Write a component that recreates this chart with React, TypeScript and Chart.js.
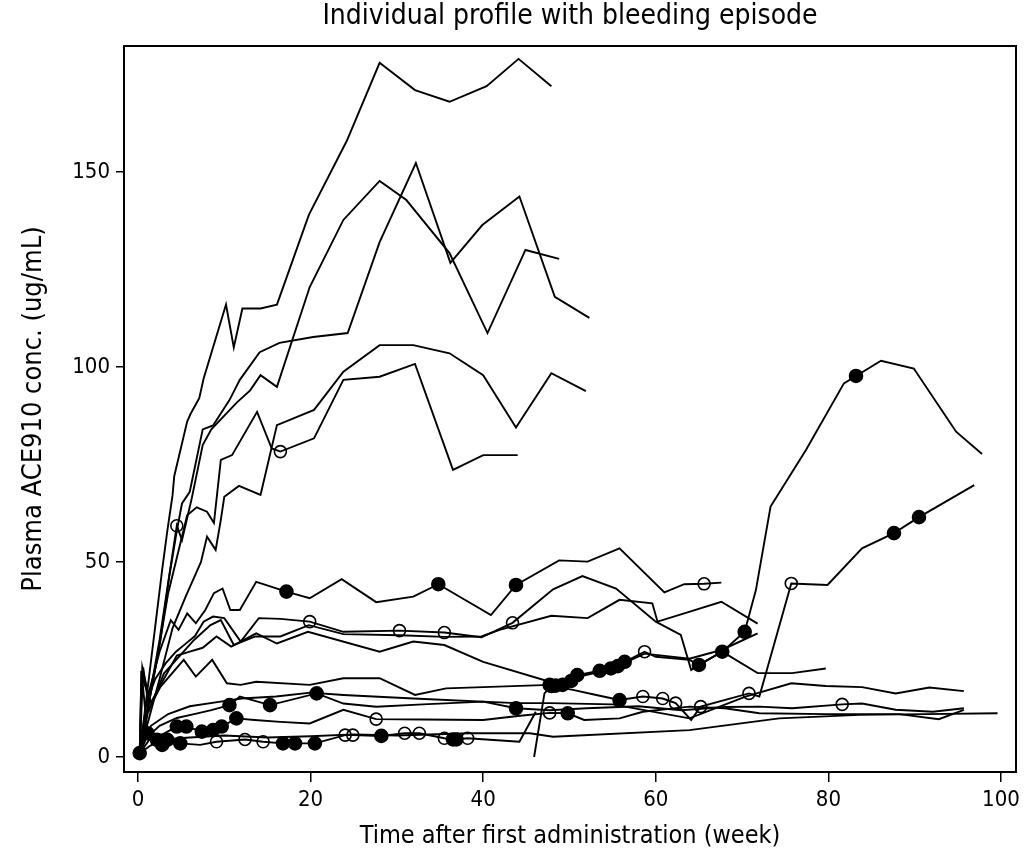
import React, { useEffect, useRef } from "react";
import { Chart, registerables } from "chart.js";

Chart.register(...registerables);

// ---- text ----
const chartTitle = "Individual profile with bleeding episode";
const xTitle = "Time after first administration (week)";
const yTitle = "Plasma ACE910 conc. (ug/mL)";
const FONT = "'DejaVu Sans Condensed', 'Liberation Sans Narrow', 'DejaVu Sans', sans-serif";

// ---- axis ticks ----
const xTickStep = 20;
const yTickStep = 50;

// ---- individual profiles (week, concentration ug/mL); filled = bleeding episode, open = other episode ----
const s01Weeks = [0.2, 2.8, 3.4, 4.0, 4.2, 5.7, 6.1, 7.1, 7.6, 10.2, 11.1, 12.1, 14.2, 16.1, 19.8, 24.2, 28.0, 32.1, 36.1, 40.4, 44.1, 47.9];
const s01Conc = [1, 48, 58, 67, 72, 86, 88, 92, 97, 116, 105, 115, 115, 116, 139, 158, 178, 171, 168, 172, 179, 172];
const s01Filled: number[] = [];
const s01Open: number[] = [];

const s02Weeks = [0.2, 2.6, 3.6, 4.5, 5.1, 6.0, 7.5, 8.7, 10.6, 11.8, 14.1, 16.4, 20.3, 24.3, 28.0, 32.2, 36.2, 39.9, 44.2, 48.3, 52.3];
const s02Conc = [1, 30, 46, 58, 65, 68, 84, 85, 91.5, 96.7, 103.8, 106.2, 107.7, 108.7, 132, 152.3, 126.7, 136.4, 143.7, 118, 112.6];
const s02Filled: number[] = [];
const s02Open: number[] = [];

const s03Weeks = [0.2, 2.5, 4.5, 5.1, 6.2, 7.5, 8.5, 10.2, 11.5, 13.0, 14.2, 16.1, 19.9, 23.8, 28.0, 31.1, 36.1, 40.5, 44.9, 48.8];
const s03Conc = [1, 30, 59.3, 55.6, 66, 80, 84, 88, 91, 94, 97.9, 94.9, 120.5, 137.7, 147.7, 142.8, 129.2, 108.7, 130, 127.7];
const s03Filled: number[] = [];
const s03Open = [4.5];

const s04Weeks = [0.2, 2.5, 4.0, 5.5, 6.5, 7.3, 8.0, 9.0, 9.6, 10.0, 11.7, 14.2, 16.1, 20.4, 23.8, 28.0, 31.9, 36.1, 40.0, 43.8, 47.9, 51.9];
const s04Conc = [1, 20, 33, 41, 46, 50, 56.5, 53.1, 60.8, 66.7, 69.5, 67.2, 85.1, 89, 98.8, 105.6, 105.6, 103.5, 97.9, 84.5, 98.4, 93.8];
const s04Filled: number[] = [];
const s04Open: number[] = [];

const s05Weeks = [0.2, 2.2, 3.5, 4.6, 5.7, 6.8, 8.0, 8.8, 9.6, 10.9, 13.8, 15.5, 16.5, 20.4, 23.8, 28.0, 32.1, 36.5, 40.0, 44.0];
const s05Conc = [1, 25, 42, 52, 62, 64, 62.9, 60, 76.2, 77.4, 88.5, 79.1, 78.3, 81.7, 96.7, 97.5, 100.8, 73.6, 77.4, 77.4];
const s05Filled: number[] = [];
const s05Open = [16.5];

const s06Weeks = [0.2, 0.5, 1.2, 2.5, 3.8, 4.7, 5.7, 6.7, 7.8, 8.8, 9.8, 10.7, 11.8, 13.7, 17.2, 19.9, 23.6, 27.6, 31.9, 34.8, 40.9, 43.8, 48.8, 52.1, 55.8, 61.0, 63.3, 65.6, 67.6];
const s06Conc = [1, 23, 16, 27, 35.1, 32.6, 36.8, 34.3, 37.7, 42, 43.2, 37.7, 37.7, 44.9, 42.4, 40.7, 45.6, 39.7, 41.1, 44.3, 36.4, 44.1, 50.4, 50.1, 53.5, 42.2, 44.3, 44.4, 44.7];
const s06Filled = [17.2, 34.8, 43.8];
const s06Open = [65.6];

const s07Weeks = [0.2, 1.0, 2.0, 3.2, 4.4, 5.5, 6.6, 7.6, 8.7, 10.0, 11.9, 14.0, 16.5, 19.9, 23.8, 30.3, 35.5, 39.8, 43.4, 48.1, 51.5, 55.4, 60.0, 62.9, 64.1, 65.0, 67.7, 70.3, 71.6, 73.3, 77.4, 81.8, 83.2, 86.1, 89.9, 94.8, 97.8];
const s07Conc = [1, 14, 20, 24, 27, 29, 31, 34.7, 36, 35.6, 29.6, 35.6, 35.4, 34.7, 32.1, 32.4, 31.9, 30.7, 34.4, 43, 46.4, 43.2, 34.7, 31.3, 22.3, 23.6, 27, 32.1, 42.8, 64.2, 78.7, 95.8, 97.7, 101.6, 99.6, 83.4, 77.7];
const s07Filled = [70.3, 83.2];
const s07Open = [19.9, 30.3, 35.5, 43.4];

const s08Weeks = [0.2, 0.4, 1.5, 3.0, 4.5, 6.0, 7.5, 9.1, 10.8, 13.7, 16.1, 19.7, 28.0, 31.9, 35.5, 40.0, 47.7, 50.9, 54.8, 58.7, 63.9, 67.7, 71.8];
const s08Conc = [1, 21, 14, 20, 26, 27, 28, 30.9, 28.3, 31.7, 29.1, 32.1, 27, 29.6, 28.7, 24.4, 19.3, 20.5, 22.5, 26.5, 25.2, 27.5, 31.7];
const s08Filled: number[] = [];
const s08Open: number[] = [];

const s09Weeks = [0.2, 0.6, 1.3, 3.0, 6.5, 8.4, 9.6, 11.1, 13.6, 16.5, 19.8, 23.8, 30.3, 35.5, 39.8, 41.9, 47.9, 52.1, 55.8, 59.6, 60.2, 63.3, 67.6, 71.8];
const s09Conc = [1, 23, 12, 21.4, 30, 33.8, 35.1, 28.7, 30.9, 30.9, 33.8, 31.5, 31.2, 30.8, 30.9, 32.6, 36.2, 35.6, 40.3, 39.4, 34.7, 36.8, 39.8, 34.2];
const s09Filled: number[] = [];
const s09Open: number[] = [];

const s10Weeks = [0.2, 1.2, 2.6, 5.3, 6.7, 8.6, 10.3, 11.9, 13.7, 19.9, 23.8, 28.0, 32.1, 35.7, 47.7, 48.4, 49.2, 50.2, 50.9, 53.5, 54.8, 55.6, 56.4, 58.7, 60.0, 63.9, 65.0, 67.7, 71.8, 75.8, 79.7];
const s10Conc = [1, 12, 18, 24.9, 20.6, 24.9, 18.9, 18.5, 19.3, 18.5, 20.2, 20.2, 15.9, 17.6, 18.5, 18.3, 18.5, 19.5, 21, 22.1, 22.7, 23.3, 24.4, 27, 25.7, 24.9, 23.6, 27, 21.5, 21.5, 22.7];
const s10Filled = [47.7, 48.4, 49.2, 50.2, 50.9, 53.5, 54.8, 55.6, 56.4, 65.0, 67.7];
const s10Open = [58.7];

const s11Weeks = [45.9, 47.1, 47.9, 50.4, 53.1, 55.8, 58.5, 60.8, 62.3, 64.1, 65.2, 70.8, 72.0, 75.7, 79.9, 83.9, 87.6, 90.5, 96.9];
const s11Conc = [0, 16.3, 18.2, 17.2, 15.9, 14.6, 15.5, 15, 13.8, 9.5, 12.9, 16.3, 15.5, 44.5, 44.1, 53.5, 57.4, 61.5, 69.7];
const s11Filled = [47.9, 55.8, 87.6, 90.5];
const s11Open = [58.5, 60.8, 62.3, 65.2, 70.8, 75.7];

const s12Weeks = [0.2, 0.4, 1.1, 2.2, 2.8, 3.4, 4.9, 7.2, 9.1, 12.4, 14.5, 16.8, 18.2, 20.5, 24.0, 24.9, 28.2, 30.9, 32.6, 35.5, 36.5, 36.9, 38.2, 44.2, 46.1];
const s12Conc = [1, 22, 6.1, 4.4, 3.1, 4.4, 3.5, 3.1, 3.9, 4.5, 3.9, 3.5, 3.5, 3.5, 5.6, 5.6, 5.4, 6.1, 6.1, 4.8, 4.5, 4.5, 4.8, 3.9, 11.6];
const s12Filled = [0.2, 1.1, 2.2, 2.8, 3.4, 4.9, 16.8, 18.2, 20.5, 28.2, 36.5, 36.9];
const s12Open = [9.1, 12.4, 14.5, 24.0, 24.9, 30.9, 32.6, 35.5, 38.2];

const s13Weeks = [0.2, 1.5, 3.0, 4.5, 5.6, 7.4, 8.7, 9.7, 11.4, 13.5, 16.5, 19.9, 23.8, 27.6, 33.0, 40.0, 44.0, 47.7, 49.8, 51.7, 55.8, 58.5, 63.9, 68.0, 72.0, 79.7, 88.2, 92.8, 95.7];
const s13Conc = [1, 5, 6, 7.8, 7.8, 6.5, 6.9, 7.8, 9.9, 9.5, 9.0, 8.6, 12.1, 9.7, 9.6, 9.5, 10.5, 11.3, 11.2, 9.5, 9.9, 11.6, 12.9, 12.5, 11.2, 11, 11, 9.7, 12.1];
const s13Filled = [4.5, 5.6, 7.4, 8.7, 9.7, 11.4, 49.8];
const s13Open = [27.6, 47.7];

const s14Weeks = [0.2, 1.0, 2.5, 4.5, 6.5, 8.5, 10.6, 11.8, 15.3, 20.7, 23.8, 27.6, 33.0, 40.0, 43.8, 47.7, 52.0, 58.0, 63.0, 68.0, 72.0, 75.8, 81.6, 83.9, 87.8, 92.1, 95.7];
const s14Conc = [1, 5, 8, 10, 11, 12, 13.3, 15.5, 13.3, 16.3, 13.7, 12.9, 13.5, 14.2, 12.5, 12, 12.5, 13, 12, 12.8, 12.9, 12.5, 13.5, 13.7, 12.1, 11.6, 12.5];
const s14Filled = [10.6, 15.3, 20.7, 43.8];
const s14Open = [81.6];

const s15Weeks = [0.2, 1.5, 3.5, 6.0, 9.0, 12.0, 16.0, 20.0, 23.8, 31.9, 43.8, 47.7, 55.0, 63.9, 70.4, 75.7, 79.7, 83.9, 87.8, 91.7, 95.7];
const s15Conc = [1, 8, 11, 13, 14, 15, 15.5, 16.5, 15.9, 15, 13.8, 13.8, 13.5, 9.9, 15.5, 18.9, 18.2, 17.9, 16.3, 17.8, 16.9];
const s15Filled: number[] = [];
const s15Open: number[] = [];

const s16Weeks = [0.2, 1.5, 3.0, 6.0, 10.0, 15.0, 20.0, 25.0, 30.0, 38.4, 45.4, 48.1, 63.9, 74.3, 83.6, 91.3, 99.6];
const s16Conc = [1, 3, 4.5, 5, 5.5, 5, 5.3, 5.8, 5.5, 6.1, 6.1, 5.2, 6.9, 9.9, 10.8, 11, 11.2];
const s16Filled: number[] = [];
const s16Open: number[] = [];

const subjects = [
  { weeks: s01Weeks, conc: s01Conc, filled: s01Filled, open: s01Open },
  { weeks: s02Weeks, conc: s02Conc, filled: s02Filled, open: s02Open },
  { weeks: s03Weeks, conc: s03Conc, filled: s03Filled, open: s03Open },
  { weeks: s04Weeks, conc: s04Conc, filled: s04Filled, open: s04Open },
  { weeks: s05Weeks, conc: s05Conc, filled: s05Filled, open: s05Open },
  { weeks: s06Weeks, conc: s06Conc, filled: s06Filled, open: s06Open },
  { weeks: s07Weeks, conc: s07Conc, filled: s07Filled, open: s07Open },
  { weeks: s08Weeks, conc: s08Conc, filled: s08Filled, open: s08Open },
  { weeks: s09Weeks, conc: s09Conc, filled: s09Filled, open: s09Open },
  { weeks: s10Weeks, conc: s10Conc, filled: s10Filled, open: s10Open },
  { weeks: s11Weeks, conc: s11Conc, filled: s11Filled, open: s11Open },
  { weeks: s12Weeks, conc: s12Conc, filled: s12Filled, open: s12Open },
  { weeks: s13Weeks, conc: s13Conc, filled: s13Filled, open: s13Open },
  { weeks: s14Weeks, conc: s14Conc, filled: s14Filled, open: s14Open },
  { weeks: s15Weeks, conc: s15Conc, filled: s15Filled, open: s15Open },
  { weeks: s16Weeks, conc: s16Conc, filled: s16Filled, open: s16Open },
];

const framePlugin = {
  id: "frameAndTitle",
  afterDraw(chart: any) {
    const { ctx, chartArea: a } = chart;
    ctx.save();
    ctx.strokeStyle = "#000";
    ctx.lineWidth = 2;
    ctx.strokeRect(a.left, a.top, a.right - a.left, a.bottom - a.top);
    ctx.fillStyle = "#000";
    ctx.font = `28px ${FONT}`;
    ctx.textAlign = "center";
    ctx.textBaseline = "middle";
    ctx.fillText(chartTitle, (a.left + a.right) / 2, 17);
    ctx.restore();
  },
};

export default function App() {
  const ref = useRef<HTMLCanvasElement | null>(null);

  useEffect(() => {
    if (!ref.current) return;
    const datasets = subjects.map((s, i) => {
      const kind = s.weeks.map((w) => (s.filled.includes(w) ? "f" : s.open.includes(w) ? "o" : ""));
      return {
        label: `Subject ${i + 1}`,
        data: s.weeks.map((w, j) => ({ x: w, y: s.conc[j] })),
        borderColor: "#000",
        borderWidth: 1.9,
        tension: 0,
        fill: false,
        pointRadius: kind.map((k) => (k === "f" ? 6.5 : k === "o" ? 6 : 0)),
        pointHoverRadius: 0,
        pointHitRadius: 0,
        pointBackgroundColor: kind.map((k) => (k === "f" ? "#000" : "rgba(0,0,0,0)")),
        pointBorderColor: "#000",
        pointBorderWidth: 1.6,
      };
    });

    const chart = new Chart(ref.current, {
      type: "line",
      data: { datasets },
      options: {
        animation: false,
        responsive: false,
        devicePixelRatio: 1,
        layout: { padding: { top: 46, right: 10, left: 0, bottom: 0 } },
        plugins: { legend: { display: false }, tooltip: { enabled: false }, title: { display: false } },
        scales: {
          x: {
            type: "linear",
            min: -1.62,
            max: 101.74,
            afterFit: (s: any) => {
              s.height = 88;
            },
            border: { display: false },
            grid: { display: true, drawOnChartArea: false, drawTicks: true, tickLength: 10, color: "#000", lineWidth: 1.5 },
            ticks: {
              stepSize: xTickStep,
              includeBounds: false,
              color: "#000",
              font: { family: FONT, size: 22 },
              padding: 5,
              maxRotation: 0,
              autoSkip: false,
            },
            title: {
              display: true,
              text: xTitle,
              color: "#000",
              font: { family: FONT, size: 25 },
              padding: { top: 0, bottom: 9 },
            },
          },
          y: {
            type: "linear",
            min: -3.85,
            max: 182.3,
            afterFit: (s: any) => {
              s.width = 124;
            },
            border: { display: false },
            grid: { display: true, drawOnChartArea: false, drawTicks: true, tickLength: 8, color: "#000", lineWidth: 1.5 },
            ticks: {
              stepSize: yTickStep,
              includeBounds: false,
              color: "#000",
              font: { family: FONT, size: 22 },
              padding: 6,
            },
            title: {
              display: true,
              text: yTitle,
              color: "#000",
              font: { family: FONT, size: 27 },
              padding: { top: 18, bottom: 0 },
            },
          },
        },
      },
      plugins: [framePlugin],
    });
    return () => chart.destroy();
  }, []);

  return (
    <div style={{ position: "absolute", left: 0, top: 0, width: 1026, height: 860, background: "#fff" }}>
      <canvas ref={ref} width={1026} height={860} style={{ display: "block", width: 1026, height: 860 }} />
    </div>
  );
}
